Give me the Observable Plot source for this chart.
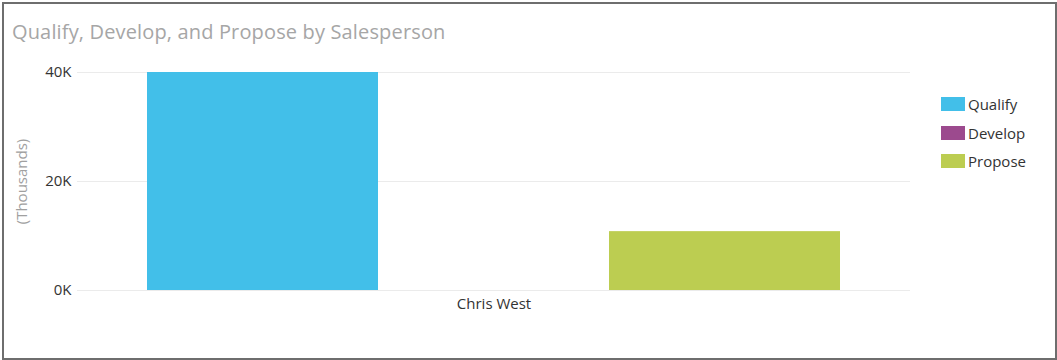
<!DOCTYPE html>
<html>
<head>
<meta charset="utf-8">
<script src="https://cdn.jsdelivr.net/npm/d3@7"></script>
<script src="https://cdn.jsdelivr.net/npm/@observablehq/plot@0.6"></script>
<style>
  body { margin: 0; background: #fff; font-family: "Open Sans", "Noto Sans", sans-serif; }
  #wrap { position: relative; width: 1057px; height: 360px; overflow: hidden; }
  #frame { position: absolute; left: 2px; top: 2px; width: 1051px; height: 354px; border: 2px solid #6e6e6e; box-sizing: content-box; pointer-events: none; }
  #title { position: absolute; left: 12px; top: 18px; font-size: 20px; letter-spacing: 0.15px; color: #a6a6a6; font-weight: 400; white-space: nowrap; }
  #chart { position: absolute; left: 0; top: 50px; }
  #legend { position: absolute; left: 941px; top: 90px; font-size: 15px; color: #333; }
  .item { display: flex; align-items: center; height: 28.5px; }
  .sw { width: 24px; height: 14px; margin-right: 3px; }
</style>
</head>
<body>
<div id="wrap">
  <div id="title"></div>
  <div id="chart"></div>
  <div id="legend"></div>
  <div id="frame"></div>
</div>
<script>
const title = "Qualify, Develop, and Propose by Salesperson";
const salesperson = "Chris West";
const series = ["Qualify", "Develop", "Propose"];
const values = [40000, 0, 10800];
const colors = ["#42bfe9", "#9c4a8e", "#bccd51"];
const yTicks = [0, 20000, 40000];
const yLabel = "(Thousands)";

const data = series.map((s, i) => ({salesperson, series: s, value: values[i]}));

document.getElementById("title").textContent = title;

const plot = Plot.plot({
  width: 1057,
  height: 310,
  marginLeft: 77,
  marginRight: 147,
  marginTop: 22,
  marginBottom: 70,
  style: {fontFamily: "'Open Sans', 'Noto Sans', sans-serif", fontSize: "15px", color: "#333", background: "transparent"},
  x: {domain: series, paddingInner: 0, paddingOuter: 0.2975},
  y: {domain: [0, 40000]},
  color: {domain: series, range: colors},
  marks: [
    Plot.ruleY(yTicks, {stroke: "#ebebeb", strokeWidth: 1}),
    Plot.barY(data, {x: "series", y: "value", fill: "series"}),
    Plot.axisY({ticks: yTicks, tickSize: 0, tickPadding: 6, tickFormat: d => d / 1000 + "K", label: null, fontSize: 15}),
    Plot.axisX({ticks: ["Develop"], tickSize: 0, tickPadding: 8, tickFormat: () => salesperson, label: null, fontSize: 15}),
    Plot.text([yLabel], {frameAnchor: "left", dx: -55, rotate: -90, textAnchor: "middle", fill: "#a0a0a0", fontSize: 15, text: d => d})
  ]
});
document.getElementById("chart").appendChild(plot);

const legend = document.getElementById("legend");
series.forEach((s, i) => {
  const item = document.createElement("div");
  item.className = "item";
  const sw = document.createElement("div");
  sw.className = "sw";
  sw.style.background = colors[i];
  const lab = document.createElement("span");
  lab.textContent = s;
  item.appendChild(sw);
  item.appendChild(lab);
  legend.appendChild(item);
});
</script>
</body>
</html>
